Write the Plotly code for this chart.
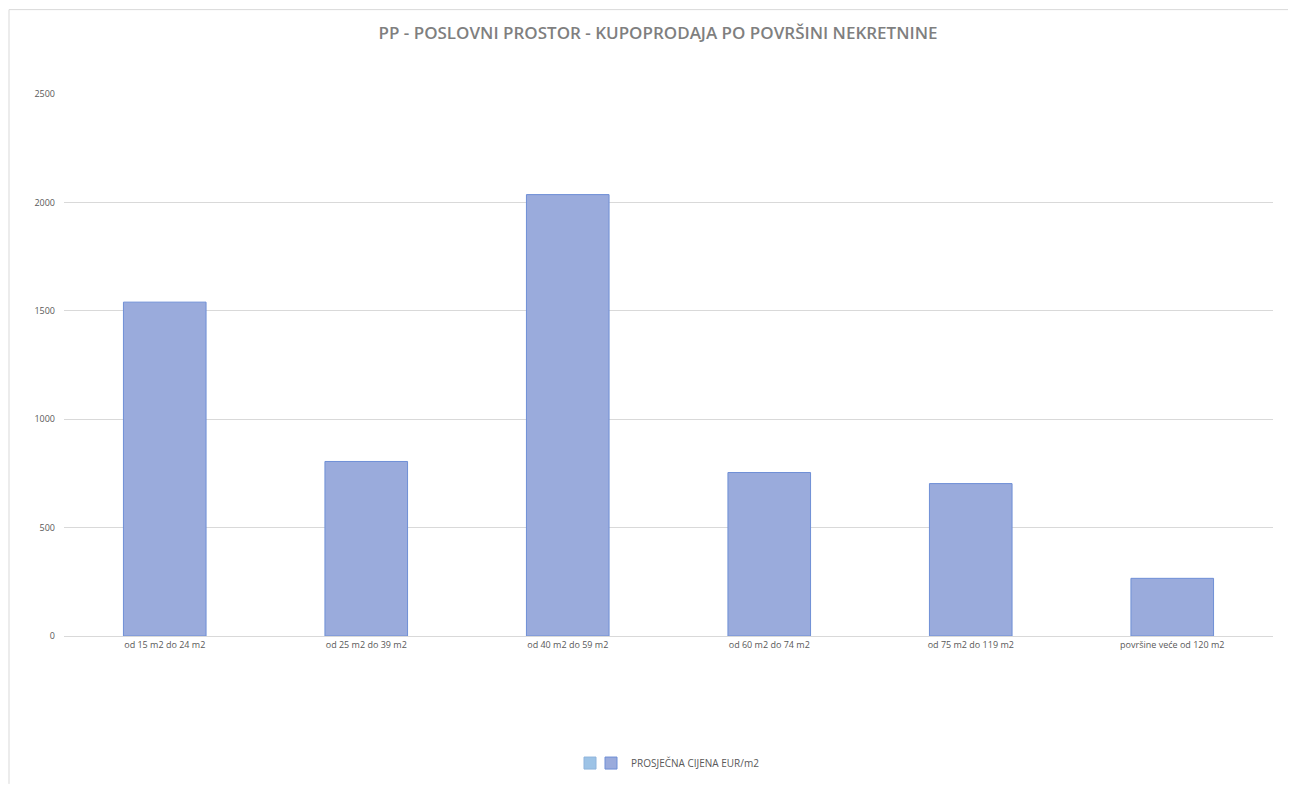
import plotly.graph_objects as go

categories = ["od 15 m2 do 24 m2", "od 25 m2 do 39 m2", "od 40 m2 do 59 m2",
              "od 60 m2 do 74 m2", "od 75 m2 do 119 m2", "površine veće od 120 m2"]
prices = [1540, 805, 2036, 754, 703, 266]
series_name = "PROSJEČNA CIJENA EUR/m2"
title_text = "PP - POSLOVNI PROSTOR - KUPOPRODAJA PO POVRŠINI NEKRETNINE"
y_ticks = [0, 500, 1000, 1500, 2000, 2500]

# page body has an 8px margin, so the figure is placed at (8, 8)
OFF = 8
W, H = 1296 - OFF, 789 - OFF
ml, mr, mt, mb = 64 - OFF, 1296 - 1273, 94 - OFF, 789 - 640
pw = W - ml - mr
ph = H - mt - mb

fig = go.Figure()
# empty legend entry (light blue square, no label)
fig.add_trace(go.Bar(x=[categories[0]], y=[None], name="", legend="legend2",
                     marker=dict(color="#9dc3e6", line=dict(color="#8fb4dc", width=1)),
                     showlegend=True, hoverinfo="skip"))
fig.add_trace(go.Bar(x=categories, y=prices, name=series_name, legend="legend",
                     marker=dict(color="#9aabdc", line=dict(color="#6f8fd6", width=1))))

leg_y = -(768 - 640) / ph
fig.update_layout(
    width=W, height=H,
    margin=dict(l=ml, r=mr, t=mt, b=mb),
    paper_bgcolor="white", plot_bgcolor="white",
    bargap=0.59, barmode="overlay",
    title=dict(text=title_text, x=(658 - OFF) / W, xanchor="center",
               y=1 - (33 - OFF) / H, yanchor="middle",
               font=dict(family="Open Sans", size=17, color="#7f7f7f", weight=600)),
    font=dict(family="Open Sans", color="#595959"),
    xaxis=dict(tickfont=dict(size=9, color="#595959"), showline=True, linecolor="#d9d9d9",
               ticks="", showgrid=False),
    yaxis=dict(range=[0, 2500], tickvals=y_ticks, tickfont=dict(size=9, color="#595959"),
               gridcolor="#d9d9d9", gridwidth=1, zeroline=False, showline=False,
               ticks="", ticklabelstandoff=8),
    legend=dict(orientation="h", x=(591 - OFF - ml) / pw, xanchor="left",
                y=leg_y, yanchor="middle", bgcolor="rgba(0,0,0,0)",
                font=dict(size=10, color="#595959"), itemwidth=30),
    legend2=dict(orientation="h", x=(570 - OFF - ml) / pw, xanchor="left",
                 y=leg_y, yanchor="middle", bgcolor="rgba(0,0,0,0)",
                 font=dict(size=10, color="#595959"), itemwidth=30),
    showlegend=True,
)

# chart frame (top and left edges)
fx = (9 - OFF - ml) / pw
fy = 1 + (mt - (9 - OFF)) / ph
fig.add_shape(type="line", xref="paper", yref="paper",
              x0=fx, x1=(W - ml) / pw, y0=fy, y1=fy,
              line=dict(color="#d9d9d9", width=1))
fig.add_shape(type="line", xref="paper", yref="paper",
              x0=fx, x1=fx, y0=fy, y1=-mb / ph,
              line=dict(color="#d9d9d9", width=1))

fig.write_html("out.html")
